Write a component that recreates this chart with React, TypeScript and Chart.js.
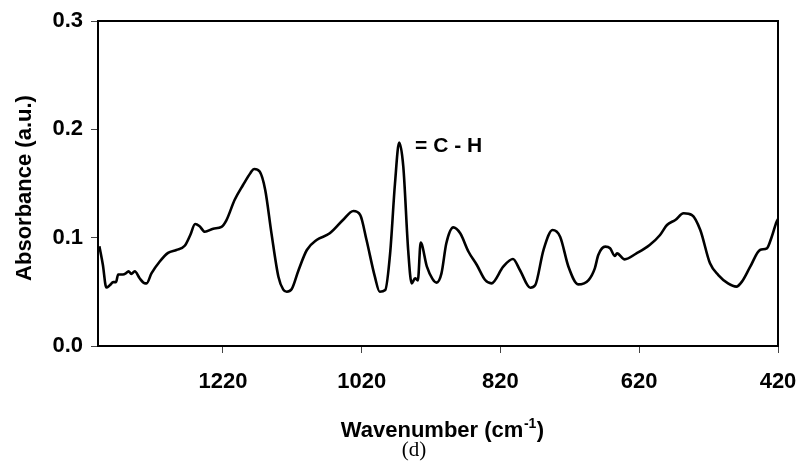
import React, { useEffect, useRef } from "react";
import { Chart, registerables } from "chart.js";

Chart.register(...registerables);

const wavenumbers = [
  1398, 1393, 1388, 1383, 1378, 1374, 1371, 1364, 1360, 1356, 1352, 1347, 1340, 1333, 1330,
  1323, 1311, 1299, 1287, 1275, 1267, 1260, 1254, 1246, 1234, 1222, 1215, 1203, 1191, 1180,
  1175, 1167, 1159, 1150, 1140, 1133, 1128, 1121, 1111, 1099, 1085, 1066, 1047, 1032, 1022,
  1013, 1001, 994, 986, 979, 972, 966, 960, 953, 948, 943, 939, 935, 926, 918,
  912, 905, 898, 888, 878, 866, 854, 842, 833, 816, 802, 792, 777, 770, 758,
  745, 734, 722, 708, 693, 684, 679, 669, 662, 655, 652, 641, 624, 605, 590,
  580, 568, 556, 544, 532, 518, 506, 492, 480, 472, 460, 446, 436, 429, 422, 420,
];

const absorbance = [
  0.092, 0.075, 0.054, 0.056, 0.059, 0.059, 0.066, 0.066, 0.067, 0.069, 0.0665, 0.069, 0.0625, 0.058, 0.0578,
  0.067, 0.078, 0.086, 0.0886, 0.0925, 0.1025, 0.1126, 0.1108, 0.1055, 0.1083, 0.11, 0.116, 0.135, 0.1486, 0.16,
  0.1634, 0.161, 0.144, 0.104, 0.064, 0.052, 0.0501, 0.0523, 0.07, 0.0886, 0.0978, 0.104, 0.1163, 0.1246, 0.1209,
  0.0978, 0.064, 0.0501, 0.0517, 0.0855, 0.15, 0.1877, 0.1655, 0.0886, 0.0578, 0.0625, 0.0606, 0.0954, 0.0732, 0.062,
  0.0585, 0.067, 0.0948, 0.1095, 0.104, 0.087, 0.0748, 0.0609, 0.0578, 0.0732, 0.0803, 0.0702, 0.0538, 0.056, 0.0886,
  0.1071, 0.1009, 0.0732, 0.0569, 0.0609, 0.0717, 0.084, 0.0917, 0.0902, 0.0831, 0.0855, 0.08, 0.0855, 0.0932, 0.1025,
  0.1117, 0.1163, 0.1225, 0.1209, 0.1071, 0.0763, 0.0655, 0.0578, 0.0548, 0.0594, 0.0732, 0.0886, 0.0902, 0.1009, 0.1148, 0.117,
];

const xTickValues = [1220, 1020, 820, 620, 420];
const yTickValues = [0, 0.1, 0.2, 0.3];
const xRange = [420, 1400];
const yRange = [0, 0.3];

const yTitle = "Absorbance (a.u.)";
const xTitleMain = "Wavenumber (cm";
const xTitleSup = "-1";
const xTitleEnd = ")";
const panelLabel = "(d)";
const annotationText = "= C - H";
const annotationAt = [943, 0.1846];

const SANS = "'Liberation Sans', Arial, sans-serif";
const SERIF = "'Liberation Serif', 'Times New Roman', serif";

export default function App() {
  const ref = useRef<HTMLCanvasElement>(null);

  useEffect(() => {
    const canvas = ref.current;
    if (!canvas) return;

    const decor = {
      id: "decor",
      afterDatasetsDraw(chart: any) {
        const c = chart.ctx as CanvasRenderingContext2D;
        const { left, top, right, bottom } = chart.chartArea;
        c.save();
        c.strokeStyle = "#000";
        c.lineWidth = 2;
        c.strokeRect(left, top, right - left, bottom - top);

        const xs = chart.scales.x;
        const ys = chart.scales.y;
        c.fillStyle = "#000";
        c.font = `bold 21px ${SANS}`;
        c.textBaseline = "middle";
        c.textAlign = "left";
        c.fillText(annotationText, xs.getPixelForValue(annotationAt[0]), ys.getPixelForValue(annotationAt[1]));

        const mainFont = `bold 22px ${SANS}`;
        const supFont = `bold 14px ${SANS}`;
        c.font = mainFont;
        const w1 = c.measureText(xTitleMain).width;
        const w3 = c.measureText(xTitleEnd).width;
        c.font = supFont;
        const w2 = c.measureText(xTitleSup).width;
        const total = w1 + w2 + w3;
        const cx = (left + right) / 2 + 4;
        const x0 = cx - total / 2;
        const base = 437;
        c.textBaseline = "alphabetic";
        c.font = mainFont;
        c.fillText(xTitleMain, x0, base);
        c.font = supFont;
        c.fillText(xTitleSup, x0 + w1 + 0.5, base - 9);
        c.font = mainFont;
        c.fillText(xTitleEnd, x0 + w1 + w2 + 1, base);

        c.font = `21px ${SERIF}`;
        c.textAlign = "center";
        c.fillText(panelLabel, 414, 456);

        c.translate(25, 188);
        c.rotate(-Math.PI / 2);
        c.font = `bold 22px ${SANS}`;
        c.textAlign = "center";
        c.textBaseline = "middle";
        c.fillText(yTitle, 0, 0);
        c.restore();
      },
    };

    const chart = new Chart(canvas, {
      type: "line",
      data: {
        datasets: [
          {
            data: wavenumbers.map((w, i) => ({ x: w, y: absorbance[i] })),
            borderColor: "#000",
            borderWidth: 2.6,
            pointRadius: 0,
            fill: false,
            cubicInterpolationMode: "monotone",
          },
        ],
      },
      options: {
        responsive: false,
        animation: false,
        events: [],
        layout: { padding: { left: 0, top: 21, right: 20, bottom: 0 } },
        plugins: { legend: { display: false }, tooltip: { enabled: false }, title: { display: false } },
        scales: {
          x: {
            type: "linear",
            reverse: true,
            min: xRange[0],
            max: xRange[1],
            afterBuildTicks: (s: any) => {
              s.ticks = xTickValues.map((v) => ({ value: v }));
            },
            afterFit: (s: any) => {
              s.height = 115;
              s.paddingLeft = 0;
              s.paddingRight = 0;
            },
            grid: { drawOnChartArea: false, drawTicks: true, tickLength: 7, color: "#444", lineWidth: 1 },
            border: { display: false },
            ticks: {
              autoSkip: false,
              maxRotation: 0,
              padding: 16,
              color: "#000",
              font: { family: SANS, size: 22, weight: "bold" },
              callback: (v: any) => String(v),
            },
          },
          y: {
            type: "linear",
            min: yRange[0],
            max: yRange[1],
            afterBuildTicks: (s: any) => {
              s.ticks = yTickValues.map((v) => ({ value: v }));
            },
            afterFit: (s: any) => {
              s.width = 98;
              s.paddingTop = 0;
              s.paddingBottom = 0;
            },
            grid: { drawOnChartArea: false, drawTicks: true, tickLength: 7, color: "#444", lineWidth: 1 },
            border: { display: false },
            ticks: {
              padding: 8,
              color: "#000",
              font: { family: SANS, size: 22, weight: "bold" },
              callback: (v: any) => Number(v).toFixed(1),
            },
          },
        },
      },
      plugins: [decor],
    } as any);

    return () => chart.destroy();
  }, []);

  return (
    <div style={{ position: "absolute", left: 0, top: 0, width: 798, height: 461, background: "#fff" }}>
      <canvas ref={ref} width={798} height={461} style={{ display: "block" }} />
    </div>
  );
}
